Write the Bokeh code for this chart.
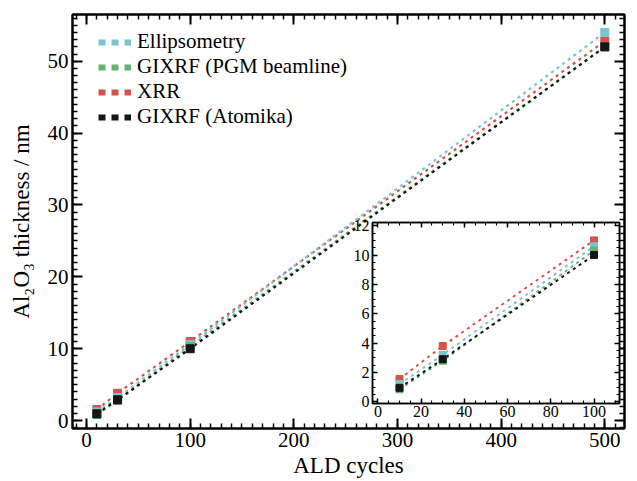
import numpy as np
from bokeh.plotting import figure
from bokeh.models import (Range1d, LinearAxis, CustomJSTickFormatter, Legend,
                          LegendItem, SingleIntervalTicker)
from bokeh.embed import file_html
from bokeh.resources import INLINE

# ---------------- data ----------------
cycles = [10, 30, 100, 500]
ellipsometry = [1.2, 3.2, 10.6, 54.0]
gixrf_pgm = [0.85, 2.8, 10.3, 52.0]
xrr = [1.55, 3.8, 11.0, 52.8]
gixrf_atomika = [0.95, 2.9, 10.0, 52.0]
series_names = ["Ellipsometry", "GIXRF (PGM beamline)", "XRR", "GIXRF (Atomika)"]
series_values = [ellipsometry, gixrf_pgm, xrr, gixrf_atomika]
colors = ["#7cc4ce", "#62b46e", "#d5534b", "#151515"]
draw_order = [2, 0, 1, 3]  # XRR, Ellipsometry, GIXRF PGM, GIXRF Atomika
inset_max_cycles = 100

FONT = "'Liberation Serif', 'Times New Roman', serif"
blank = CustomJSTickFormatter(code="return ''")


def style_axes(fig, xtick, ytick, label_size, lw, tick_in, minor_in):
    for ax in fig.xaxis + fig.yaxis:
        ax.axis_line_width = lw
        ax.major_tick_line_width = lw
        ax.minor_tick_line_width = lw * 0.75
        ax.major_tick_in = tick_in
        ax.major_tick_out = 0
        ax.minor_tick_in = minor_in
        ax.minor_tick_out = 0
        ax.major_label_text_font = FONT
        ax.major_label_text_font_size = label_size
        ax.major_label_text_color = "black"
        ax.axis_label_text_font = FONT
        ax.axis_label_text_font_style = "normal"
        ax.axis_label_text_color = "black"
        ax.axis_line_color = "black"
        ax.major_tick_line_color = "black"
        ax.minor_tick_line_color = "black"
    top = LinearAxis(ticker=xtick, formatter=blank, major_label_standoff=0)
    right = LinearAxis(ticker=ytick, formatter=blank, major_label_standoff=0)
    for ax in (top, right):
        ax.axis_line_width = lw
        ax.major_tick_line_width = lw
        ax.minor_tick_line_width = lw * 0.75
        ax.major_tick_in = tick_in
        ax.major_tick_out = 0
        ax.minor_tick_in = minor_in
        ax.minor_tick_out = 0
        ax.major_label_text_font_size = "1px"
    fig.add_layout(top, "above")
    fig.add_layout(right, "right")


# ---------------- main plot ----------------
p = figure(width=636, height=480, output_backend="svg",
           toolbar_location=None, x_range=Range1d(-13.5, 519),
           y_range=Range1d(-1.1, 56.5),
           min_border_left=72, min_border_right=12, min_border_top=14,
           min_border_bottom=52)
p.xgrid.visible = False
p.ygrid.visible = False
p.outline_line_color = "black"
p.outline_line_width = 2
xt = SingleIntervalTicker(interval=100, num_minor_ticks=10)
yt = SingleIntervalTicker(interval=10, num_minor_ticks=10)
p.xaxis.ticker = xt
p.yaxis.ticker = yt
p.xaxis.axis_label = "ALD cycles"
p.yaxis.axis_label = "Al\u2082O\u2083 thickness / nm"
style_axes(p, xt, yt, "21px", 2, 10, 5)
p.xaxis.axis_label_text_font_size = "23px"
p.yaxis.axis_label_text_font_size = "23px"
p.xaxis.major_label_standoff = 4
p.yaxis.major_label_standoff = 4
p.xaxis.axis_label_standoff = 3
p.yaxis.axis_label_standoff = 11

for i in draw_order:
    p.line(cycles, series_values[i], line_color=colors[i], line_width=2.2,
           line_dash="3 4")
for i in draw_order:
    p.scatter(cycles, series_values[i], marker="square", size=8,
              fill_color=colors[i], line_color=colors[i])

items = []
for i, name in enumerate(series_names):
    r = p.line([np.nan, np.nan], [np.nan, np.nan], line_color=colors[i],
               line_width=6, line_dash="7 6")
    items.append(LegendItem(label=name, renderers=[r]))
legend = Legend(items=items, location=(26, 299), margin=0, padding=0,
                spacing=0, glyph_width=33, glyph_height=22, label_height=22,
                label_standoff=6, label_text_font=FONT,
                label_text_font_size="21px", label_text_color="black",
                border_line_color=None, background_fill_alpha=0)
p.add_layout(legend)

# ---------------- inset ----------------
mask = [c <= inset_max_cycles for c in cycles]
ic = [c for c, m in zip(cycles, mask) if m]
q = figure(width=273, height=205, output_backend="svg",
           toolbar_location=None, x_range=Range1d(-2.5, 111.8),
           y_range=Range1d(-0.12, 12.22),
           min_border_left=22, min_border_right=4, min_border_top=4,
           min_border_bottom=20)
q.xgrid.visible = False
q.ygrid.visible = False
q.outline_line_color = "black"
q.outline_line_width = 1.5
q.border_fill_alpha = 0
q.background_fill_color = "white"
ixt = SingleIntervalTicker(interval=20, num_minor_ticks=4)
iyt = SingleIntervalTicker(interval=2, num_minor_ticks=4)
q.xaxis.ticker = ixt
q.yaxis.ticker = iyt
style_axes(q, ixt, iyt, "16px", 1.5, 5, 3)
q.xaxis.major_label_standoff = 2
q.yaxis.major_label_standoff = 3

for i in draw_order:
    vals = [v for v, m in zip(series_values[i], mask) if m]
    q.line(ic, vals, line_color=colors[i], line_width=2, line_dash="3 4")
for i in draw_order:
    vals = [v for v, m in zip(series_values[i], mask) if m]
    q.scatter(ic, vals, marker="square", size=7, fill_color=colors[i],
              line_color=colors[i])

q.styles = {"position": "absolute", "left": "350px", "top": "218px",
            "z-index": "10"}

open("out.html", "w").write(file_html([p, q], INLINE))
